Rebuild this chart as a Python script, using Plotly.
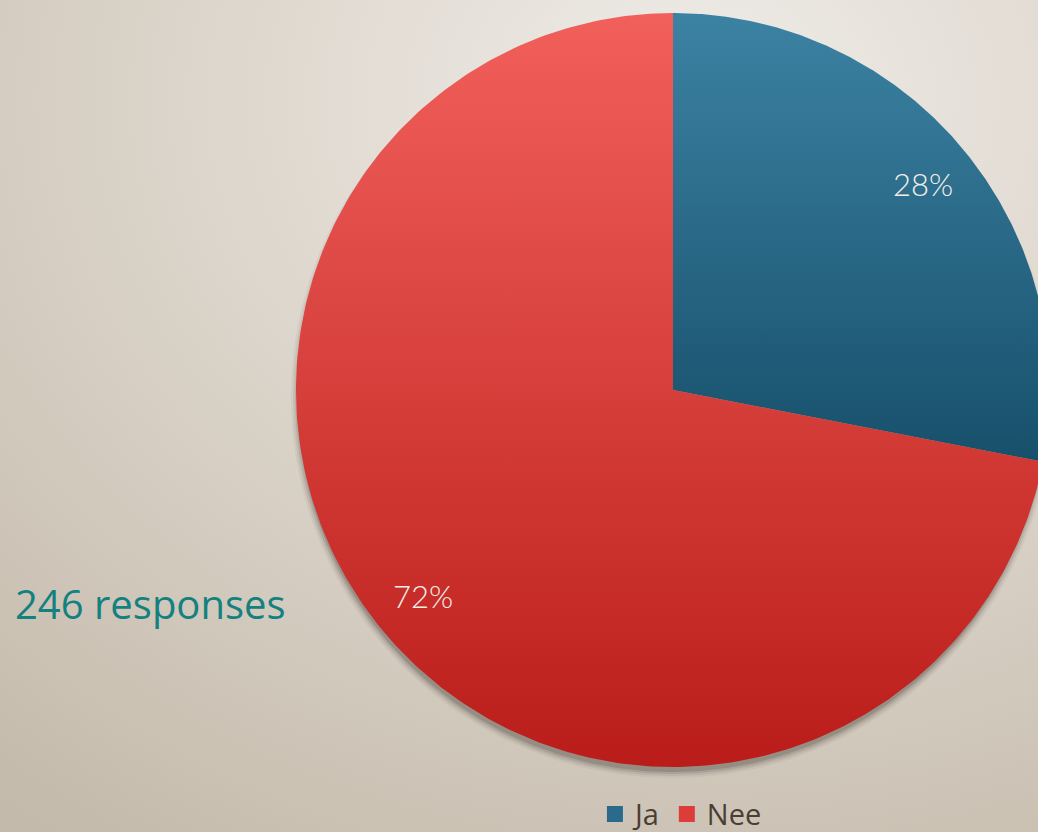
import numpy as np
import plotly.graph_objects as go

# Survey answers
labels = ["Ja", "Nee"]
counts = [69, 177]
total_label = "246 responses"

# slice colours: top / bottom of the vertical gradient
grad_top = ["#3c82a3", "#f2605c"]
grad_bot = ["#17506b", "#ba1d19"]
legend_cols = ["#2a6a8a", "#dc3d39"]

W, H = 1038, 832
cx, cy, R = 673, 390, 377

fig = go.Figure()

# background: soft radial beige gradient
fig.add_trace(go.Scatter(
    x=[-400, 1800, 1800, -400, -400], y=[-800, -800, 1000, 1000, -800],
    mode="lines", line=dict(width=0), fill="toself",
    fillgradient=dict(type="radial",
                      colorscale=[[0, "#efece8"], [0.45, "#ddd6cc"], [1, "#c4baab"]]),
    hoverinfo="skip", showlegend=False))

# soft drop shadow under the pie, falling downwards
t = np.linspace(0, 2 * np.pi, 400)
for k, a in [(4, 0.05), (2, 0.08), (0, 0.12), (-2, 0.18)]:
    fig.add_trace(go.Scatter(
        x=cx - 1 + (R + k) * np.sin(t), y=cy + 7 + (R + k) * np.cos(t),
        mode="lines", line=dict(width=0), fill="toself",
        fillcolor=f"rgba(50,45,40,{a})", hoverinfo="skip", showlegend=False))

vals = np.array(counts, dtype=float)
frac = vals / vals.sum()
edges = np.concatenate([[0], np.cumsum(frac)]) * 2 * np.pi

annotations = []
for i, name in enumerate(labels):
    a0, a1 = edges[i], edges[i + 1]
    ang = np.linspace(a0, a1, 300)
    xs = np.concatenate([[cx], cx + R * np.sin(ang), [cx]])
    ys = np.concatenate([[cy], cy - R * np.cos(ang), [cy]])
    fig.add_trace(go.Scatter(
        x=xs, y=ys, mode="lines", line=dict(width=0), fill="toself",
        fillgradient=dict(type="vertical",
                          colorscale=[[0, grad_bot[i]], [1, grad_top[i]]]),
        name=name, hoverinfo="skip", showlegend=False))
    mid = (a0 + a1) / 2
    annotations.append(dict(
        x=cx + 0.86 * R * np.sin(mid), y=cy - 0.86 * R * np.cos(mid),
        text=f"{round(frac[i] * 100)}%", showarrow=False,
        font=dict(family="Lato", size=31, weight=300, color="#f3efe8")))

# legend entries
for i, name in enumerate(labels):
    fig.add_trace(go.Scatter(
        x=[None], y=[None], mode="markers", name=name,
        marker=dict(symbol="square", size=20, color=legend_cols[i])))

annotations.append(dict(
    x=13, y=603, xanchor="left", yanchor="middle", text=total_label,
    showarrow=False, font=dict(family="Open Sans", size=40, color="#13817f")))

fig.update_layout(
    width=W, height=H, margin=dict(l=0, r=0, t=0, b=0, autoexpand=False),
    paper_bgcolor="#dcd5cb", plot_bgcolor="#dcd5cb",
    xaxis=dict(range=[0, W], visible=False, fixedrange=True),
    yaxis=dict(range=[H, 0], visible=False, fixedrange=True),
    annotations=annotations,
    showlegend=True,
    legend=dict(orientation="h", x=0.656, xanchor="center", y=0.052, yanchor="top",
                bgcolor="rgba(0,0,0,0)", font=dict(family="Open Sans", size=29, color="#4a3f33"),
                itemwidth=30, tracegroupgap=0),
)

fig.write_html("out.html")
